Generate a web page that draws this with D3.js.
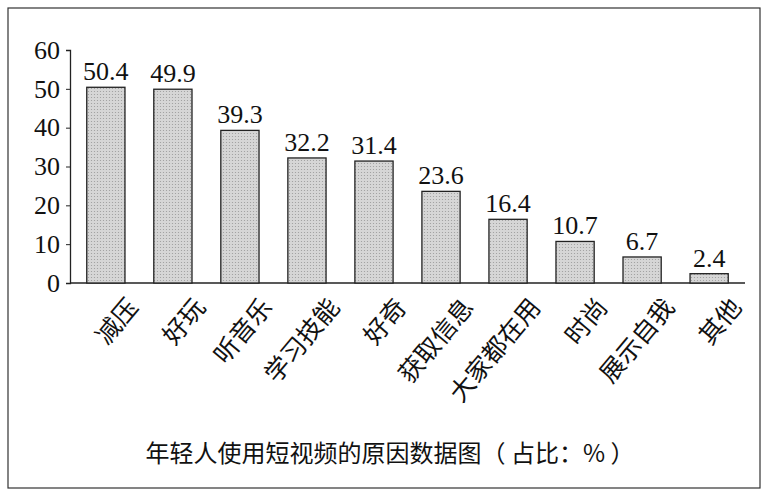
<!DOCTYPE html>
<html><head><meta charset="utf-8">
<script src="https://cdn.jsdelivr.net/npm/d3@7"></script>
<style>body{margin:0;background:#fff}</style>
</head><body><svg width="775" height="500"></svg>
<script>
var reasons = ["减压","好玩","听音乐","学习技能","好奇","获取信息","大家都在用","时尚","展示自我","其他"];
var shares = [50.4,49.9,39.3,32.2,31.4,23.6,16.4,10.7,6.7,2.4];
var yTicks = [0,10,20,30,40,50,60];

var svg = d3.select("svg");
var serif = "'Liberation Serif','DejaVu Serif',serif";
var cjk = "'Noto Sans CJK SC',sans-serif";

// dotted fill like the printed chart
var pat = svg.append("defs").append("pattern")
  .attr("id","dots").attr("width",3).attr("height",3).attr("patternUnits","userSpaceOnUse");
pat.append("rect").attr("width",3).attr("height",3).attr("fill","#d6d6d6");
pat.append("circle").attr("cx",1.5).attr("cy",1.5).attr("r",0.6).attr("fill","#9a9a9a");

svg.append("rect").attr("x",8).attr("y",8).attr("width",752).attr("height",480)
  .attr("fill","none").attr("stroke","#333").attr("stroke-width",1.2);

var x = d3.scaleBand().domain(reasons).range([70,745]).paddingInner(0.43).paddingOuter(0.25);
var y = d3.scaleLinear().domain([0,60]).range([283,50]);

var yAxis = svg.append("g").attr("transform","translate(70,0)")
  .call(d3.axisLeft(y).tickValues(yTicks).tickSize(4).tickPadding(6));
yAxis.select(".domain").attr("stroke","#222").attr("stroke-width",1.3);
yAxis.selectAll("line").attr("stroke","#222");
yAxis.selectAll("text").attr("font-family",serif).attr("font-size",26).attr("fill","#111");

svg.append("line").attr("x1",70).attr("x2",745).attr("y1",y(0)).attr("y2",y(0))
  .attr("stroke","#222").attr("stroke-width",1.3);

svg.selectAll(".bar").data(shares).enter().append("rect")
  .attr("class","bar")
  .attr("x",function(d,i){ return x(reasons[i]); })
  .attr("y",function(d){ return y(d); })
  .attr("width",x.bandwidth())
  .attr("height",function(d){ return y(0)-y(d); })
  .attr("fill","url(#dots)").attr("stroke","#222").attr("stroke-width",1.3);

svg.selectAll(".val").data(shares).enter().append("text")
  .attr("x",function(d,i){ return x(reasons[i])+x.bandwidth()/2; })
  .attr("y",function(d){ return y(d)-7; })
  .attr("text-anchor","middle").attr("font-family",serif).attr("font-size",26).attr("fill","#111")
  .text(function(d){ return d; });

svg.selectAll(".cat").data(reasons).enter().append("text")
  .attr("transform",function(d){
    return "translate(" + (x(d)+x.bandwidth()/2+16) + ",293) rotate(-50)";
  })
  .attr("text-anchor","end").attr("dominant-baseline","hanging")
  .attr("font-family",cjk).attr("font-size",25).attr("fill","#111")
  .text(function(d){ return d; });

svg.append("text").attr("x",390).attr("y",462).attr("text-anchor","middle")
  .attr("font-family",cjk).attr("font-size",24).attr("fill","#111")
  .text("年轻人使用短视频的原因数据图（ 占比：% ）");
</script></body></html>
